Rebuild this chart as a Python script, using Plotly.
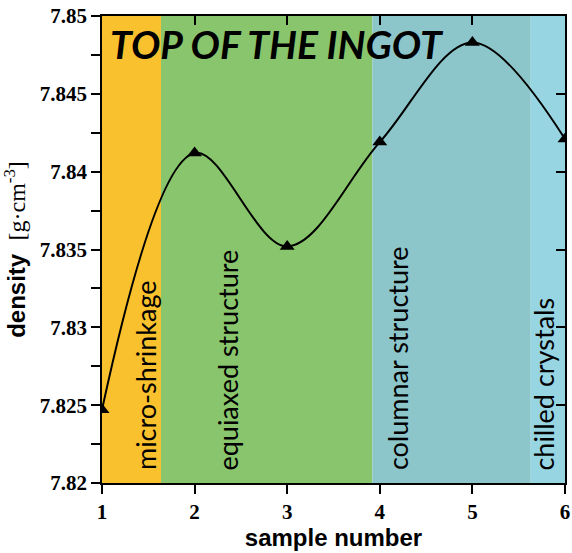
import plotly.graph_objects as go

samples = [1, 2, 3, 4, 5, 6]
density = [7.8247, 7.8412, 7.8352, 7.8419, 7.8483, 7.8421]

band_edges = [1.0, 1.637, 3.92, 5.63, 6.0]
band_colors = ["#F9C12D", "#88C56C", "#8CC6CA", "#98D5E3"]
band_labels = ["micro-shrinkage", "equiaxed structure", "columnar structure", "chilled crystals"]
label_x = [1.464, 2.36, 4.186, 5.773]

x_ticks = [1, 2, 3, 4, 5, 6]
y_ticks = [7.82, 7.825, 7.83, 7.835, 7.84, 7.845, 7.85]
y_tick_text = ["7.82", "7.825", "7.83", "7.835", "7.84", "7.845", "7.85"]

fig = go.Figure()

for i in range(len(band_colors)):
    fig.add_shape(type="rect", xref="x", yref="y", x0=band_edges[i], x1=band_edges[i + 1],
                  y0=7.82, y1=7.85, fillcolor=band_colors[i], opacity=1, line_width=0, layer="below")
    fig.add_annotation(x=label_x[i], y=7.8207, xref="x", yref="y", text=band_labels[i],
                       textangle=-90, showarrow=False, xanchor="center", yanchor="bottom",
                       font=dict(family="Lato", size=27, color="black"))

fig.add_trace(go.Scatter(x=samples, y=density, mode="lines+markers",
                         line=dict(color="black", width=2, shape="spline", smoothing=1.0),
                         marker=dict(symbol="triangle-up", size=13, color="black"),
                         showlegend=False))
# mirrored axes for inside ticks
fig.add_trace(go.Scatter(x=samples, y=density, xaxis="x2", yaxis="y2", mode="markers",
                         marker=dict(opacity=0), showlegend=False, hoverinfo="skip"))

fig.add_annotation(x=1.065, y=7.8482, xref="x", yref="y", text="<b><i>TOP OF THE INGOT</i></b>",
                   showarrow=False, xanchor="left", yanchor="middle",
                   font=dict(family="Lato", size=39, color="black"))

tickfont = dict(family="Liberation Serif", size=21, color="black")

fig.update_layout(
    template="simple_white",
    width=572, height=553,
    margin=dict(l=102, r=7, t=16, b=70),
    paper_bgcolor="white", plot_bgcolor="white",
    xaxis=dict(range=[1, 6], tickmode="array", tickvals=x_ticks, ticktext=[f"<b>{v}</b>" for v in x_ticks],
               ticks="outside", ticklen=9, tickwidth=1.5, tickcolor="black", showgrid=False, zeroline=False,
               showline=True, linecolor="black", linewidth=1.5, tickfont=tickfont, automargin=False,
               ticklabeloverflow="allow",
               title=dict(text="<b>sample number</b>", font=dict(family="Liberation Sans", size=24, color="black"),
                          standoff=6)),
    yaxis=dict(range=[7.82, 7.85], tickmode="array", tickvals=y_ticks, ticktext=[f"<b>{t}</b>" for t in y_tick_text],
               ticks="outside", ticklen=9, tickwidth=1.5, tickcolor="black", showgrid=False, zeroline=False,
               showline=True, linecolor="black", linewidth=1.5, tickfont=tickfont, automargin=False,
               ticklabeloverflow="allow",
               minor=dict(dtick=0.0025, ticks="outside", ticklen=9, tickwidth=1.5, tickcolor="black"),
               title=dict(text="<b>density</b>  <span style=\"font-family:'Liberation Serif'\">[g·cm<sup>-3</sup>]</span>",
                          font=dict(family="Liberation Sans", size=24, color="black"), standoff=12)),
    xaxis2=dict(range=[1, 6], overlaying="x", side="top", tickmode="array", tickvals=x_ticks, showticklabels=False,
                ticks="inside", ticklen=9, tickwidth=1.5, tickcolor="black", showgrid=False, zeroline=False,
                showline=True, linecolor="black", linewidth=1.5, automargin=False),
    yaxis2=dict(range=[7.82, 7.85], overlaying="y", side="right", tickmode="array", tickvals=y_ticks, showticklabels=False,
                ticks="inside", ticklen=9, tickwidth=1.5, tickcolor="black", showgrid=False, zeroline=False,
                showline=True, linecolor="black", linewidth=1.5, automargin=False),
)

fig.write_html("out.html", config={"displayModeBar": False},
               post_script="document.body.style.margin='0';document.body.style.overflow='hidden';")
